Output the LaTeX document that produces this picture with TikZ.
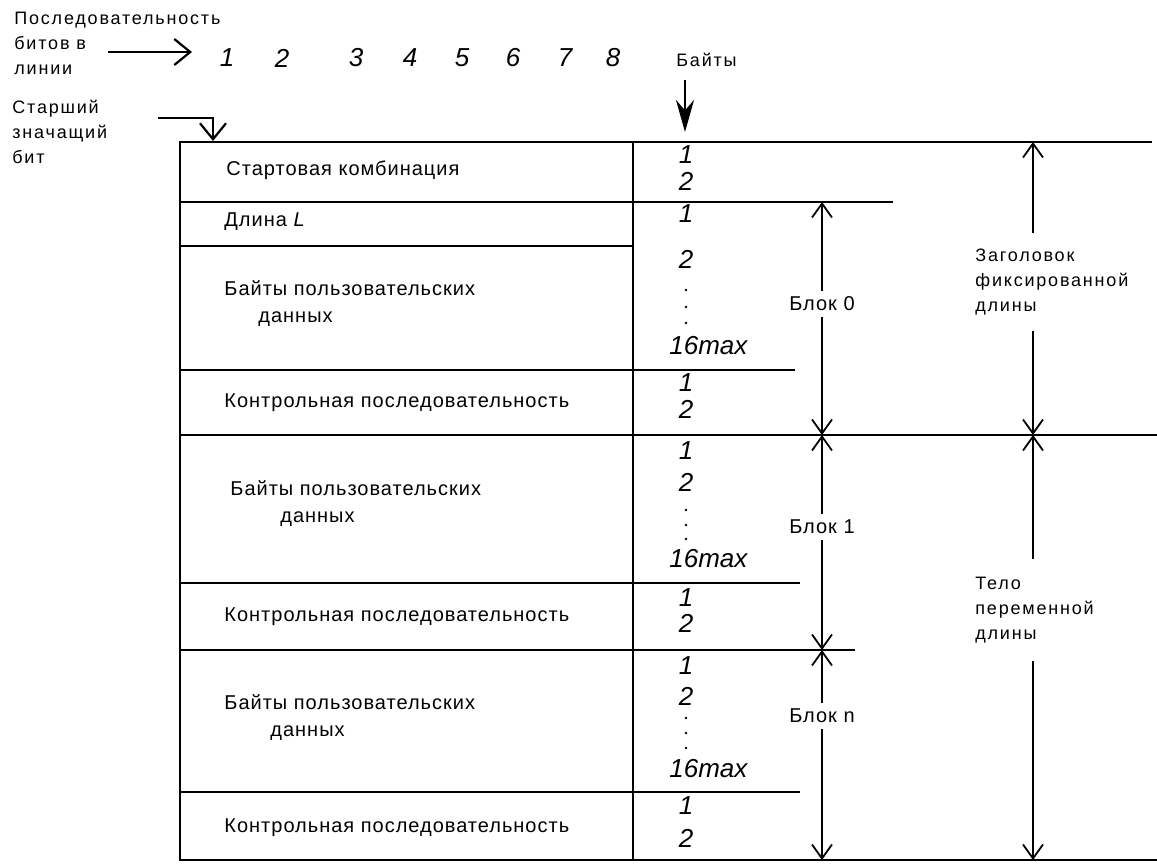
\documentclass[tikz,border=0pt]{standalone}
\usepackage{fontspec}
\setmainfont{Liberation Sans}
\newfontfamily\lblfont[LetterSpace=5]{Liberation Sans}
\newfontfamily\notefont[LetterSpace=10]{Liberation Sans}
\usetikzlibrary{arrows.meta}

\begin{document}
\begin{tikzpicture}
[x=0.5pt,y=-0.5pt,
every node/.style={inner sep=1pt},
txt/.style={font=\lblfont\fontsize{10}{13.5}\selectfont,anchor=west,align=left},
note/.style={font=\notefont\fontsize{9}{12.5}\selectfont,align=left},
num/.style={font=\fontsize{13}{14}\selectfont\itshape},
blk/.style={font=\lblfont\fontsize{10}{12}\selectfont,inner sep=3pt},
rule/.style={line width=1.4pt},
dim/.style={line width=0.9pt,-{Straight Barb[length=7pt,width=10pt]}},
barb/.style={line width=1.1pt,-{Straight Barb[length=8pt,width=13pt]}}]

\useasboundingbox (0,0) rectangle (1157,864);

\node[note,anchor=north west] (seq) at (12,10) {Последовательность\\битов в\\линии};
\node[note,anchor=north west] (msb) at (10,98) {Старший\\значащий\\бит};
\node[note,anchor=west] (bytes) at (674,60) {Байты};

\node[num] (d1) at (227,58) {1};
\node[num] (d2) at (282,58) {2};
\node[num] (d3) at (356,58) {3};
\node[num] (d4) at (410,58) {4};
\node[num] (d5) at (462,58) {5};
\node[num] (d6) at (513,58) {6};
\node[num] (d7) at (565,58) {7};
\node[num] (d8) at (613,58) {8};

\coordinate (sqa) at (108,52);
\coordinate (sqb) at (192,52);
\draw[barb] (sqa) -- (sqb);
\coordinate (msa) at (158,118);
\coordinate (msk) at (213,118);
\coordinate (msb) at (213,141);
\draw[barb] (msa) -- (msk) -- (msb);
\coordinate (bya) at (685,80);
\coordinate (byb) at (685,132);
\draw[line width=1.4pt,-{Stealth[length=16pt,width=9pt]}] (bya) -- (byb);

\draw[rule] (180,142) rectangle (633,860);
\draw[rule] (180,142) -- (1152,142);
\draw[rule] (180,202) -- (893,202);
\draw[rule] (180,246) -- (633,246);
\draw[rule] (180,370) -- (795,370);
\draw[rule] (180,435) -- (1157,435);
\draw[rule] (180,583) -- (800,583);
\draw[rule] (180,650) -- (855,650);
\draw[rule] (180,792) -- (800,792);
\draw[rule] (180,860) -- (1157,860);

\node[txt] (start) at (224,170) {Стартовая комбинация};
\node[txt] (len) at (222,222) {Длина \textit{L}};
\node[txt] (data0) at (222,304) {Байты пользовательских\\\hspace*{17pt}данных};
\node[txt] (crc0) at (222,403) {Контрольная последовательность};
\node[txt] (data1) at (228,504) {Байты пользовательских\\\hspace*{25pt}данных};
\node[txt] (crc1) at (222,617) {Контрольная последовательность};
\node[txt] (data2) at (222,718) {Байты пользовательских\\\hspace*{23pt}данных};
\node[txt] (crc2) at (222,828) {Контрольная последовательность};

\node[num] (s1) at (686,155) {1};
\node[num] (s2) at (686,181) {2};
\node[num] (l1) at (686,214) {1};
\node[num] (a2) at (686,259) {2};
\fill (686,290) circle (1.3) (686,307) circle (1.3) (686,323) circle (1.3);
\node[num,anchor=west] (amax) at (667,346) {16max};
\node[num] (c1) at (686,383) {1};
\node[num] (c2) at (686,409) {2};
\node[num] (e1) at (686,451) {1};
\node[num] (e2) at (686,482) {2};
\fill (686,510) circle (1.3) (686,525) circle (1.3) (686,539) circle (1.3);
\node[num,anchor=west] (emax) at (667,559) {16max};
\node[num] (f1) at (686,598) {1};
\node[num] (f2) at (686,623) {2};
\node[num] (g1) at (686,666) {1};
\node[num] (g2) at (686,696) {2};
\fill (686,718) circle (1.3) (686,733) circle (1.3) (686,748) circle (1.3);
\node[num,anchor=west] (gmax) at (667,769) {16max};
\node[num] (h1) at (686,806) {1};
\node[num] (h2) at (686,838) {2};

\coordinate (b0t) at (822,202);
\coordinate (b0b) at (822,435);
\coordinate (b1b) at (822,650);
\coordinate (bnb) at (822,860);
\coordinate (ht) at (1033,142);
\coordinate (hb) at (1033,435);
\coordinate (tb) at (1033,860);

\node[blk] (blk0) at (822,304) {Блок 0};
\node[blk] (blk1) at (822,527) {Блок 1};
\node[blk] (blkn) at (822,716) {Блок n};
\node[note,anchor=west,inner ysep=8pt] (hdr) at (973,282) {Заголовок\\фиксированной\\длины};
\node[note,anchor=west,inner ysep=9pt] (body) at (973,610) {Тело\\переменной\\длины};

\draw[dim] (blk0) -- (b0t);
\draw[dim] (blk0) -- (b0b);
\draw[dim] (blk1) -- (b0b);
\draw[dim] (blk1) -- (b1b);
\draw[dim] (blkn) -- (b1b);
\draw[dim] (blkn) -- (bnb);
\draw[dim] (hdr.north -| ht) -- (ht);
\draw[dim] (hdr.south -| ht) -- (hb);
\draw[dim] (body.north -| ht) -- (hb);
\draw[dim] (body.south -| ht) -- (tb);
\end{tikzpicture}
\end{document}
